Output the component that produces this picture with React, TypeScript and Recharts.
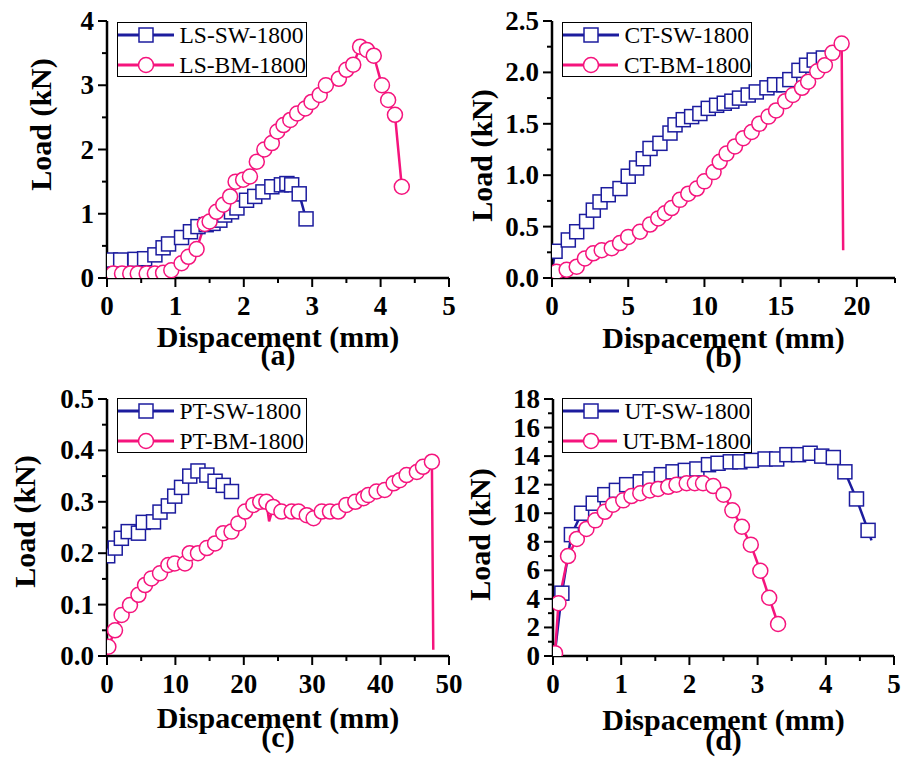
import { LineChart, Line, XAxis, YAxis, Legend } from 'recharts';

const FONT = "'Liberation Serif', 'Times New Roman', serif";
const BLUE = '#1c1c9e';
const PINK = '#f5147d';

// (a) LS
const lsSwX = [0.05, 0.2, 0.41, 0.55, 0.7, 0.82, 0.9, 1.09, 1.22, 1.33, 1.45, 1.55, 1.65, 1.72, 1.82, 1.9, 2.04, 2.16, 2.28, 2.41, 2.55, 2.63, 2.7, 2.81, 2.91];
const lsSwY = [0.28, 0.28, 0.29, 0.3, 0.36, 0.47, 0.53, 0.63, 0.72, 0.8, 0.83, 0.85, 0.9, 0.98, 1.03, 1.09, 1.21, 1.27, 1.34, 1.42, 1.45, 1.47, 1.45, 1.31, 0.92];
const lsBmX = [0.09, 0.22, 0.34, 0.45, 0.58, 0.7, 0.82, 0.94, 1.09, 1.19, 1.31, 1.43, 1.5, 1.6, 1.7, 1.8, 1.88, 1.99, 2.09, 2.19, 2.3, 2.41, 2.49, 2.58, 2.68, 2.78, 2.9, 2.99, 3.11, 3.2, 3.39, 3.5, 3.6, 3.7, 3.8, 3.9, 4.02, 4.11, 4.21, 4.31];
const lsBmY = [0.07, 0.07, 0.07, 0.07, 0.07, 0.07, 0.08, 0.12, 0.23, 0.33, 0.45, 0.84, 0.88, 1.03, 1.14, 1.27, 1.5, 1.53, 1.58, 1.81, 2.0, 2.1, 2.28, 2.38, 2.46, 2.56, 2.64, 2.74, 2.85, 3.0, 3.1, 3.24, 3.32, 3.6, 3.55, 3.46, 3.0, 2.77, 2.54, 1.42];

// (b) CT
const ctSwX = [0.02, 0.2, 1.07, 1.62, 2.27, 2.71, 3.15, 3.69, 4.46, 5.0, 5.55, 5.99, 6.43, 7.08, 7.74, 8.07, 8.61, 9.16, 9.7, 10.25, 10.8, 11.3, 11.8, 12.3, 12.87, 13.4, 14.1, 14.6, 15.2, 15.6, 16.2, 16.7, 17.2, 17.8];
const ctSwY = [0.08, 0.26, 0.37, 0.45, 0.55, 0.66, 0.74, 0.81, 0.87, 0.99, 1.07, 1.16, 1.26, 1.31, 1.41, 1.49, 1.54, 1.57, 1.6, 1.65, 1.68, 1.7, 1.72, 1.75, 1.78, 1.81, 1.85, 1.88, 1.88, 1.93, 2.02, 2.07, 2.12, 2.14];
const ctBmX = [0.3, 0.96, 1.62, 2.16, 2.71, 3.26, 3.92, 4.46, 5.0, 5.77, 6.43, 6.97, 7.41, 7.85, 8.39, 8.94, 9.5, 10.0, 10.6, 11.0, 11.45, 12.0, 12.55, 13.1, 13.6, 14.2, 14.7, 15.3, 15.8, 16.4, 16.8, 17.4, 17.9, 18.4, 19.0, 19.1];
const ctBmY = [0.06, 0.08, 0.11, 0.19, 0.24, 0.27, 0.29, 0.34, 0.4, 0.45, 0.52, 0.58, 0.63, 0.68, 0.76, 0.82, 0.87, 0.94, 1.03, 1.13, 1.21, 1.28, 1.36, 1.42, 1.5, 1.57, 1.63, 1.72, 1.78, 1.85, 1.91, 2.01, 2.07, 2.19, 2.28, 0.27];

// (c) PT
const ptSwX = [0.1, 1.2, 2.1, 3.1, 4.6, 5.3, 6.8, 7.75, 8.97, 9.9, 10.9, 12.1, 13.3, 14.6, 15.8, 17.0, 18.2];
const ptSwY = [0.195, 0.21, 0.229, 0.242, 0.239, 0.26, 0.261, 0.28, 0.292, 0.311, 0.328, 0.35, 0.36, 0.352, 0.34, 0.332, 0.32];
const ptBmX = [0.2, 1.17, 2.14, 3.36, 4.6, 5.56, 6.5, 7.75, 8.97, 9.9, 11.4, 12.1, 13.3, 14.6, 15.8, 17.0, 18.2, 19.2, 20.2, 21.4, 22.4, 23.3, 23.7, 24.3, 25.5, 27.0, 28.0, 29.2, 30.2, 31.4, 32.6, 33.8, 35.0, 36.3, 37.5, 38.2, 39.4, 40.6, 41.9, 42.8, 43.8, 45.3, 46.2, 47.5, 47.7];
const ptBmY = [0.018, 0.05, 0.08, 0.099, 0.119, 0.138, 0.151, 0.161, 0.177, 0.18, 0.18, 0.2, 0.2, 0.21, 0.219, 0.239, 0.242, 0.258, 0.281, 0.294, 0.3, 0.3, 0.262, 0.29, 0.281, 0.281, 0.281, 0.274, 0.268, 0.281, 0.281, 0.281, 0.294, 0.3, 0.307, 0.313, 0.32, 0.323, 0.336, 0.342, 0.352, 0.358, 0.368, 0.378, 0.012];

// (d) UT
const utSwX = [0.03, 0.13, 0.27, 0.42, 0.59, 0.76, 0.93, 1.08, 1.28, 1.42, 1.59, 1.76, 1.94, 2.11, 2.28, 2.42, 2.6, 2.74, 2.91, 3.11, 3.28, 3.43, 3.6, 3.77, 3.94, 4.11, 4.28, 4.45, 4.62, 4.67];
const utSwY = [0.3, 4.4, 8.5, 10.0, 10.7, 11.3, 11.6, 12.0, 12.2, 12.4, 12.7, 12.9, 13.0, 13.1, 13.4, 13.5, 13.6, 13.6, 13.7, 13.8, 13.8, 14.1, 14.1, 14.2, 14.0, 13.9, 12.9, 11.0, 8.8, 8.1];
const utBmX = [0.03, 0.08, 0.22, 0.35, 0.49, 0.62, 0.76, 0.88, 1.03, 1.15, 1.28, 1.42, 1.54, 1.69, 1.81, 1.96, 2.08, 2.2, 2.35, 2.5, 2.63, 2.77, 2.9, 3.04, 3.17, 3.3];
const utBmY = [0.2, 3.7, 7.0, 8.2, 8.9, 9.5, 10.1, 10.6, 10.9, 11.2, 11.4, 11.6, 11.7, 11.85, 12.0, 12.1, 12.1, 12.1, 11.9, 11.3, 10.2, 9.05, 7.8, 5.97, 4.08, 2.24];

// ticks
const aXMajor = [0, 1, 2, 3, 4, 5];
const aXMinor = [0.5, 1.5, 2.5, 3.5, 4.5];
const aYMajor = [0, 1, 2, 3, 4];
const aYMinor = [0.5, 1.5, 2.5, 3.5];
const bXMajor = [0, 5, 10, 15, 20];
const bXMinor = [2.5, 7.5, 12.5, 17.5, 22.5];
const bYMajor = [0, 0.5, 1, 1.5, 2, 2.5];
const bYMinor = [0.25, 0.75, 1.25, 1.75, 2.25];
const cXMajor = [0, 10, 20, 30, 40, 50];
const cXMinor = [5, 15, 25, 35, 45];
const cYMajor = [0, 0.1, 0.2, 0.3, 0.4, 0.5];
const cYMinor = [0.05, 0.15, 0.25, 0.35, 0.45];
const dXMajor = [0, 1, 2, 3, 4, 5];
const dXMinor = [0.5, 1.5, 2.5, 3.5, 4.5];
const dYMajor = [0, 2, 4, 6, 8, 10, 12, 14, 16, 18];
const dYMinor = [1, 3, 5, 7, 9, 11, 13, 15, 17];

const zip = (xs: number[], ys: number[]) => xs.map((x, i) => ({ x, y: ys[i] }));

interface Series {
    name: string;
    xs: number[];
    ys: number[];
    bare: number[]; // points drawn in the line but without a symbol
    color: string;
    marker: 'square' | 'circle';
}

interface PanelConfig {
    left: number; top: number; width: number; height: number;
    marginTop: number; marginRight: number;
    yAxisWidth: number; xAxisHeight: number;
    xMax: number; yMax: number;
    xMajor: number[]; xMinor: number[];
    yMajor: number[]; yMinor: number[];
    yDec: number;
    yTitleDx: number; yTitleDy: number;
    xTitleDy: number; tagDy: number;
    tag: string;
    legendX: number; legendY: number;
    series: Series[];
}

const tickText = { fontFamily: FONT, fontWeight: 700, fontSize: 27, fill: '#000' };
const titleText = { fontFamily: FONT, fontWeight: 700, fontSize: 30, fill: '#000' };

const makeDot = (s: Series) => (p: any) => {
    const { cx, cy, index } = p;
    if (cx == null || cy == null || s.bare.includes(index)) return <g key={`d${index}`} />;
    if (s.marker === 'square') {
        return <rect key={`d${index}`} x={cx - 7} y={cy - 7} width={14} height={14} fill="#fff" stroke={s.color} strokeWidth={1.5} />;
    }
    return <circle key={`d${index}`} cx={cx} cy={cy} r={7.5} fill="#fff" stroke={s.color} strokeWidth={1.5} />;
};

function LegendBox({ series }: { series: Series[] }) {
    return (
        <div style={{ border: '1.5px solid #000', background: '#fff', width: 188, height: 53, fontFamily: FONT, fontSize: 23.5, color: '#000', overflow: 'visible' }}>
            {series.map((s, i) => (
                <div key={s.name} style={{ display: 'flex', alignItems: 'center', height: 30, marginTop: i === 0 ? -3.5 : 0, whiteSpace: 'nowrap' }}>
                    <svg width={56} height={20} style={{ display: 'block' }}>
                        <line x1={0} x2={56} y1={10} y2={10} stroke={s.color} strokeWidth={3} />
                        {s.marker === 'square'
                            ? <rect x={21} y={3} width={14} height={14} fill="#fff" stroke={s.color} strokeWidth={1.5} />
                            : <circle cx={28} cy={10} r={7.5} fill="#fff" stroke={s.color} strokeWidth={1.5} />}
                    </svg>
                    <span style={{ marginLeft: 5.5, lineHeight: '30px' }}>{s.name}</span>
                </div>
            ))}
        </div>
    );
}

function Panel({ c }: { c: PanelConfig }) {
    const plotH = c.height - c.marginTop - c.xAxisHeight;
    const xTicks = [...c.xMajor, ...c.xMinor].sort((a, b) => a - b);
    const yTicks = [...c.yMajor, ...c.yMinor].sort((a, b) => a - b);
    const plotCx = c.yAxisWidth + (c.width - c.marginRight - c.yAxisWidth) / 2;

    const renderXTick = (p: any) => {
        const { x, y, payload } = p;
        const major = c.xMajor.includes(payload.value);
        return (
            <g key={`xt${payload.value}`}>
                <line x1={x} x2={x} y1={y} y2={y + (major ? 9 : 5)} stroke="#000" strokeWidth={2} />
                {major && <text x={x} y={y + 37} textAnchor="middle" {...tickText}>{payload.value}</text>}
            </g>
        );
    };
    const renderYTick = (p: any) => {
        const { x, y, payload } = p;
        const major = c.yMajor.includes(payload.value);
        return (
            <g key={`yt${payload.value}`}>
                <line x1={x} x2={x - (major ? 9 : 5)} y1={y} y2={y} stroke="#000" strokeWidth={2} />
                {major && <text x={x - 13} y={y + 9} textAnchor="end" {...tickText}>{payload.value.toFixed(c.yDec)}</text>}
            </g>
        );
    };
    const xTitle = () => {
        const base = c.marginTop + plotH;
        return (
            <g>
                <text x={plotCx} y={base + c.xTitleDy} textAnchor="middle" {...titleText}>Dispacement (mm)</text>
                <text x={plotCx} y={base + c.tagDy} textAnchor="middle" {...titleText}>{c.tag}</text>
            </g>
        );
    };
    const yTitle = () => {
        const cx = c.yAxisWidth + c.yTitleDx;
        const cy = c.marginTop + plotH / 2 + c.yTitleDy;
        return (
            <text x={cx} y={cy} transform={`rotate(-90 ${cx} ${cy})`} textAnchor="middle" dominantBaseline="central" {...titleText}>Load (kN)</text>
        );
    };

    return (
        <div style={{ position: 'absolute', left: c.left, top: c.top }}>
            <LineChart width={c.width} height={c.height} margin={{ top: c.marginTop, right: c.marginRight, left: 0, bottom: 0 }}>
                <XAxis
                    type="number" dataKey="x" domain={[0, c.xMax]} ticks={xTicks} interval={0}
                    height={c.xAxisHeight} tickSize={0} tickMargin={0} tickLine={false}
                    axisLine={{ stroke: '#000', strokeWidth: 2.5 }} tick={renderXTick}
                    label={xTitle} allowDataOverflow
                />
                <YAxis
                    type="number" dataKey="y" domain={[0, c.yMax]} ticks={yTicks} interval={0}
                    width={c.yAxisWidth} tickSize={0} tickMargin={0} tickLine={false}
                    axisLine={{ stroke: '#000', strokeWidth: 2.5 }} tick={renderYTick}
                    label={yTitle} allowDataOverflow
                />
                <Legend
                    layout="vertical" align="center" verticalAlign="middle"
                    content={() => <LegendBox series={c.series} />}
                    wrapperStyle={{ left: c.legendX, top: c.legendY, width: 'auto', height: 'auto', margin: 0, padding: 0 }}
                />
                {c.series.map((s) => (
                    <Line
                        key={s.name} name={s.name} data={zip(s.xs, s.ys)} dataKey="y" type="linear"
                        stroke={s.color} strokeWidth={2.5} dot={makeDot(s)} activeDot={false}
                        isAnimationActive={false} legendType="none"
                    />
                ))}
            </LineChart>
        </div>
    );
}

const panels: PanelConfig[] = [
    {
        left: 0, top: 0, width: 470, height: 380, marginTop: 21, marginRight: 21, yAxisWidth: 107, xAxisHeight: 102,
        xMax: 5, yMax: 4, xMajor: aXMajor, xMinor: aXMinor, yMajor: aYMajor, yMinor: aYMinor, yDec: 0,
        yTitleDx: -67, yTitleDy: -25, xTitleDy: 69, tagDy: 87, tag: '(a)', legendX: 117, legendY: 22,
        series: [
            { name: 'LS-SW-1800', xs: lsSwX, ys: lsSwY, bare: [], color: BLUE, marker: 'square' },
            { name: 'LS-BM-1800', xs: lsBmX, ys: lsBmY, bare: [], color: PINK, marker: 'circle' },
        ],
    },
    {
        left: 440, top: 0, width: 463, height: 380, marginTop: 21, marginRight: 8, yAxisWidth: 112, xAxisHeight: 102,
        xMax: 22.5, yMax: 2.5, xMajor: bXMajor, xMinor: bXMinor, yMajor: bYMajor, yMinor: bYMinor, yDec: 1,
        yTitleDx: -71, yTitleDy: 6, xTitleDy: 70, tagDy: 89, tag: '(b)', legendX: 122, legendY: 22,
        series: [
            { name: 'CT-SW-1800', xs: ctSwX, ys: ctSwY, bare: [0], color: BLUE, marker: 'square' },
            { name: 'CT-BM-1800', xs: ctBmX, ys: ctBmY, bare: [ctBmX.length - 1], color: PINK, marker: 'circle' },
        ],
    },
    {
        left: 0, top: 380, width: 470, height: 378, marginTop: 19, marginRight: 21, yAxisWidth: 107, xAxisHeight: 102,
        xMax: 50, yMax: 0.5, xMajor: cXMajor, xMinor: cXMinor, yMajor: cYMajor, yMinor: cYMinor, yDec: 1,
        yTitleDx: -83, yTitleDy: -6, xTitleDy: 72, tagDy: 91, tag: '(c)', legendX: 117, legendY: 18,
        series: [
            { name: 'PT-SW-1800', xs: ptSwX, ys: ptSwY, bare: [], color: BLUE, marker: 'square' },
            { name: 'PT-BM-1800', xs: ptBmX, ys: ptBmY, bare: [22, ptBmX.length - 1], color: PINK, marker: 'circle' },
        ],
    },
    {
        left: 440, top: 380, width: 463, height: 378, marginTop: 19, marginRight: 9, yAxisWidth: 113, xAxisHeight: 102,
        xMax: 5, yMax: 18, xMajor: dXMajor, xMinor: dXMinor, yMajor: dYMajor, yMinor: dYMinor, yDec: 0,
        yTitleDx: -74, yTitleDy: 7, xTitleDy: 74, tagDy: 94, tag: '(d)', legendX: 122, legendY: 18,
        series: [
            { name: 'UT-SW-1800', xs: utSwX, ys: utSwY, bare: [0, utSwX.length - 1], color: BLUE, marker: 'square' },
            { name: 'UT-BM-1800', xs: utBmX, ys: utBmY, bare: [], color: PINK, marker: 'circle' },
        ],
    },
];

export default function App() {
    return (
        <div style={{ position: 'absolute', left: 0, top: 0, width: 903, height: 758, background: '#fff', overflow: 'hidden' }}>
            {panels.map((p) => <Panel key={p.tag} c={p} />)}
        </div>
    );
}
